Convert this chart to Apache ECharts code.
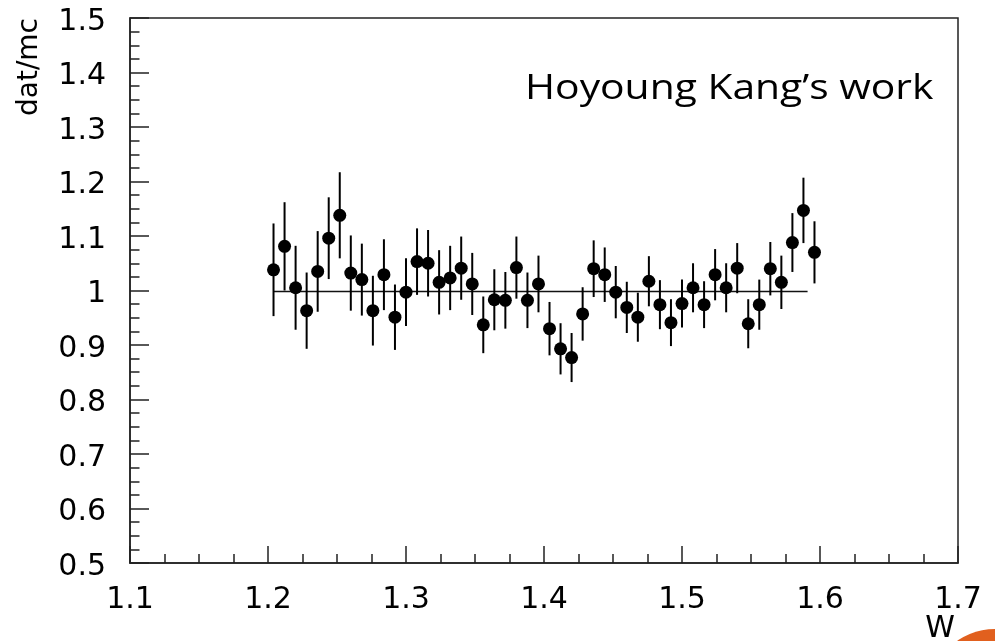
<!DOCTYPE html>
<html>
<head>
<meta charset="utf-8">
<script src="https://cdn.jsdelivr.net/npm/echarts@6/dist/echarts.min.js"></script>
<style>
  html, body { margin: 0; padding: 0; background: #ffffff; }
  #chart { width: 995px; height: 641px; }
</style>
</head>
<body>
<div id="chart"></div>
<script>
// Bin centres in W (GeV)
const wCenters = [
  1.204, 1.212, 1.220, 1.228, 1.236, 1.244, 1.252, 1.260, 1.268, 1.276,
  1.284, 1.292, 1.300, 1.308, 1.316, 1.324, 1.332, 1.340, 1.348, 1.356,
  1.364, 1.372, 1.380, 1.388, 1.396, 1.404, 1.412, 1.420, 1.428, 1.436,
  1.444, 1.452, 1.460, 1.468, 1.476, 1.484, 1.492, 1.500, 1.508, 1.516,
  1.524, 1.532, 1.540, 1.548, 1.556, 1.564, 1.572, 1.580, 1.588, 1.596
];

// data / MC ratio per bin
const ratio = [
  1.038, 1.081, 1.005, 0.963, 1.035, 1.096, 1.138, 1.032, 1.020, 0.963,
  1.029, 0.951, 0.997, 1.053, 1.050, 1.015, 1.023, 1.041, 1.012, 0.937,
  0.983, 0.982, 1.042, 0.982, 1.012, 0.930, 0.893, 0.877, 0.957, 1.040,
  1.029, 0.997, 0.969, 0.951, 1.017, 0.974, 0.941, 0.976, 1.005, 0.974,
  1.029, 1.005, 1.041, 0.939, 0.974, 1.040, 1.015, 1.088, 1.147, 1.070
];

// statistical error on the ratio
const ratioErr = [
  0.085, 0.081, 0.077, 0.070, 0.074, 0.075, 0.079, 0.069, 0.066, 0.064,
  0.065, 0.060, 0.062, 0.061, 0.061, 0.059, 0.059, 0.058, 0.057, 0.052,
  0.056, 0.052, 0.057, 0.051, 0.052, 0.049, 0.047, 0.045, 0.049, 0.052,
  0.050, 0.048, 0.047, 0.045, 0.046, 0.045, 0.043, 0.044, 0.045, 0.043,
  0.047, 0.045, 0.046, 0.045, 0.046, 0.049, 0.049, 0.054, 0.060, 0.057
];

// constant fit drawn across the filled range
const fitRange = [1.204, 1.591];
const fitValue = 0.998;

const xTicks = { min: 1.1, max: 1.7, step: 0.1 };
const yTicks = { min: 0.5, max: 1.5, step: 0.1 };

const points = wCenters.map((w, i) => [w, ratio[i]]);
const bars = wCenters.map((w, i) => [w, ratio[i] - ratioErr[i], ratio[i] + ratioErr[i]]);
const fitLine = fitRange.map(w => [w, fitValue]);

const chart = echarts.init(document.getElementById('chart'), null, { renderer: 'canvas' });

const tickFont = 'DejaVu Sans';

chart.setOption({
  animation: false,
  backgroundColor: '#ffffff',
  grid: {
    left: 130, right: 37, top: 18, bottom: 78,
    outerBoundsMode: 'none',
    containLabel: false,
    show: true, borderColor: '#222', borderWidth: 1.5, backgroundColor: 'transparent'
  },
  xAxis: {
    type: 'value',
    min: xTicks.min, max: xTicks.max, interval: xTicks.step,
    name: 'W',
    nameLocation: 'end',
    nameGap: -18,
    nameMoveOverlap: false,
    nameTextStyle: {
      fontFamily: tickFont, fontSize: 30, color: '#000',
      align: 'center', verticalAlign: 'top', padding: [51, 0, 0, 0]
    },
    axisLine: { show: true, onZero: false, lineStyle: { color: '#222', width: 1.5 } },
    axisTick: { show: true, inside: true, length: 17, lineStyle: { color: '#222', width: 1.5 } },
    minorTick: { show: true, splitNumber: 4, length: 9, lineStyle: { color: '#222', width: 1.5 } },
    splitLine: { show: false },
    axisLabel: {
      margin: 22, fontFamily: tickFont, fontSize: 30, color: '#000',
      formatter: v => String(+v.toFixed(1))
    }
  },
  yAxis: {
    type: 'value',
    min: yTicks.min, max: yTicks.max, interval: yTicks.step,
    name: 'dat/mc',
    nameLocation: 'end',
    nameGap: 0,
    nameRotate: 90,
    nameMoveOverlap: false,
    nameTextStyle: {
      fontFamily: tickFont, fontSize: 28, color: '#000',
      align: 'right', verticalAlign: 'bottom', padding: [0, 0, 86, 0]
    },
    axisLine: { show: true, onZero: false, lineStyle: { color: '#222', width: 1.5 } },
    axisTick: { show: true, inside: true, length: 19, lineStyle: { color: '#222', width: 1.5 } },
    minorTick: { show: true, splitNumber: 4, length: 9.5, lineStyle: { color: '#222', width: 1.5 } },
    splitLine: { show: false },
    axisLabel: {
      margin: 24, fontFamily: tickFont, fontSize: 30, color: '#000',
      verticalAlign: 'top', lineHeight: 8,
      formatter: v => String(+v.toFixed(1))
    }
  },
  graphic: [
    {
      type: 'text',
      x: 525, y: 72,
      scaleX: 1.2,
      style: {
        text: 'Hoyoung Kang\u2019s work',
        fontFamily: 'Open Sans', fontSize: 34, fill: '#000'
      }
    },
    {
      type: 'circle',
      shape: { cx: 995, cy: 695, r: 66 },
      style: { fill: '#E1601E' },
      z: 10
    }
  ],
  series: [
    {
      name: 'fit',
      type: 'line',
      data: fitLine,
      symbol: 'none',
      lineStyle: { color: '#111', width: 1.5 },
      z: 1
    },
    {
      name: 'errors',
      type: 'custom',
      data: bars,
      renderItem: function (params, api) {
        const lo = api.coord([api.value(0), api.value(1)]);
        const hi = api.coord([api.value(0), api.value(2)]);
        return {
          type: 'line',
          shape: { x1: lo[0], y1: lo[1], x2: hi[0], y2: hi[1] },
          style: { stroke: '#000', lineWidth: 2 }
        };
      },
      z: 2
    },
    {
      name: 'dat/mc',
      type: 'scatter',
      data: points,
      symbol: 'circle',
      symbolSize: 13,
      itemStyle: { color: '#000', opacity: 1 },
      z: 3
    }
  ]
});
</script>
</body>
</html>
